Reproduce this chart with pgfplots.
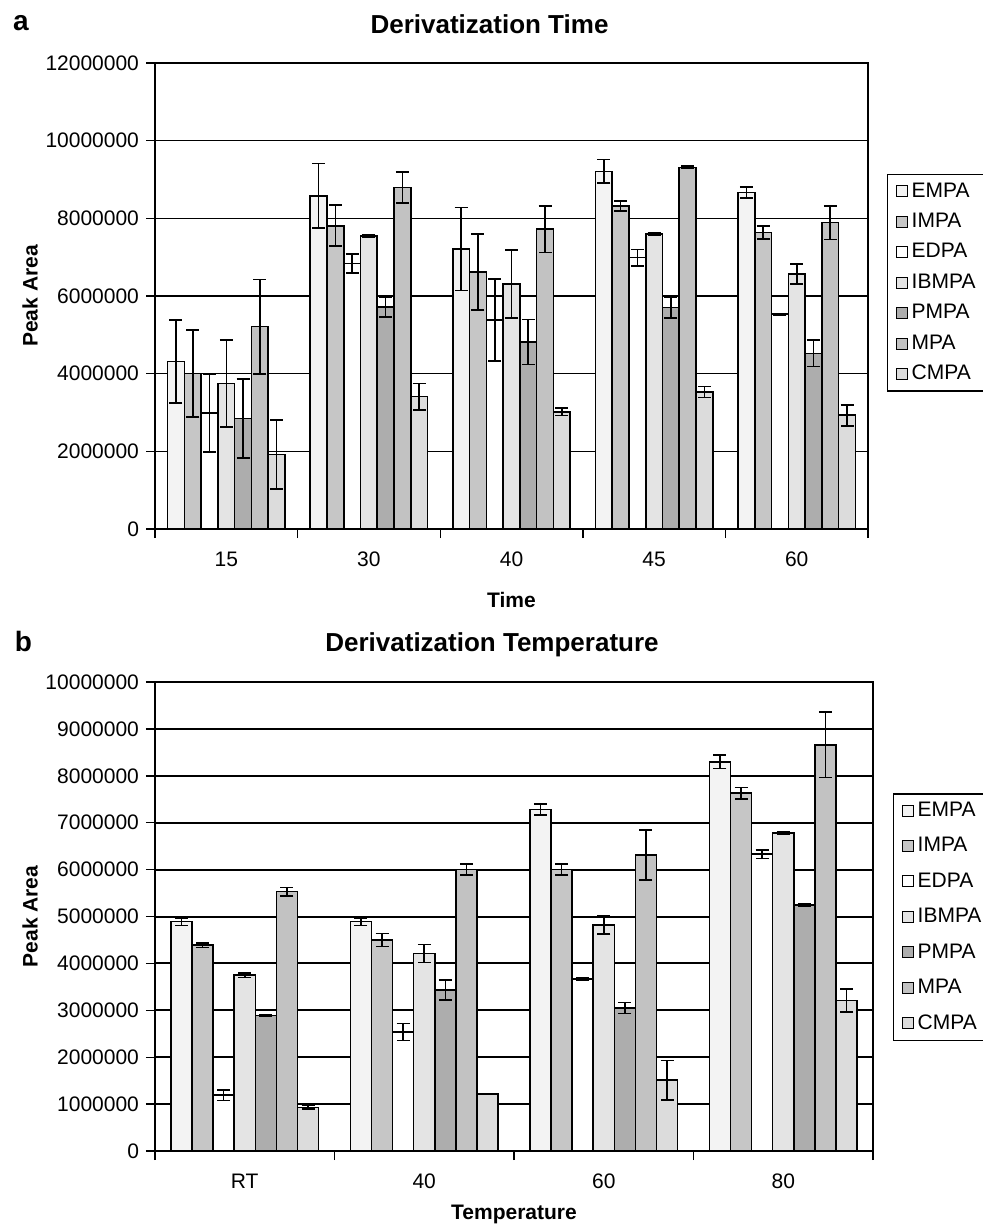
\documentclass[border=0pt]{standalone}
\usepackage{fontspec}
\setmainfont{Liberation Sans}
\usepackage{pgfplots}
\pgfplotsset{compat=1.18}
\usepackage{pgfplotstable}

\definecolor{cEMPA}{HTML}{F3F3F3}
\definecolor{cIMPA}{HTML}{C6C6C6}
\definecolor{cEDPA}{HTML}{FFFFFF}
\definecolor{cIBMPA}{HTML}{E4E4E4}
\definecolor{cPMPA}{HTML}{ADADAD}
\definecolor{cMPA}{HTML}{C2C2C2}
\definecolor{cCMPA}{HTML}{DCDCDC}

% peak areas and error bars
\pgfplotstableread{
x EMPA eEMPA IMPA eIMPA EDPA eEDPA IBMPA eIBMPA PMPA ePMPA MPA eMPA CMPA eCMPA
0 4310000 1070000 4000000 1120000 2980000 1000000 3750000 1120000 2850000 1020000 5210000 1220000 1920000 890000
1 8580000 830000 7810000 530000 6840000 240000 7550000 30000 5710000 250000 8790000 400000 3410000 340000
2 7210000 1070000 6620000 980000 5380000 1060000 6310000 870000 4820000 580000 7720000 600000 3020000 100000
3 9210000 300000 8320000 130000 6990000 210000 7590000 30000 5700000 270000 9310000 30000 3530000 140000
4 8670000 140000 7640000 170000 5530000 20000 6570000 260000 4520000 340000 7890000 430000 2930000 270000
}\timedata

\pgfplotstableread{
x EMPA eEMPA IMPA eIMPA EDPA eEDPA IBMPA eIBMPA PMPA ePMPA MPA eMPA CMPA eCMPA
0 4890000 80000 4390000 50000 1190000 110000 3750000 50000 2890000 20000 5530000 90000 930000 40000
1 4890000 80000 4500000 140000 2540000 180000 4210000 190000 3430000 210000 6000000 120000 1220000 0
2 7280000 120000 6000000 120000 3670000 30000 4820000 190000 3050000 120000 6310000 530000 1510000 420000
3 8300000 140000 7630000 120000 6330000 90000 6780000 20000 5250000 20000 8660000 700000 3210000 250000
}\tempdata

\pgfplotsset{
  sqleg/.style={legend image code/.code={\draw[##1,draw=black,line width=0.5pt] (0pt,-2.75pt) rectangle (5.5pt,2.75pt);}},
  peak/.style={
    scale only axis, anchor=south west,
    ybar=0pt, bar width=0.1176,
    ymin=0,
    axis line style={black,line width=0.7pt},
    ymajorgrids,
    tick style={black,line width=0.7pt},
    tick align=outside, major tick length=4.5pt, minor tick length=4.5pt,
    tick pos=left,
    major x tick style={draw=none},
    scaled y ticks=false,
    yticklabel style={/pgf/number format/fixed,/pgf/number format/1000 sep={}},
    xticklabel style={yshift=-3.5pt},
    /pgf/number format/assume math mode=true,
    tick label style={font=\fontsize{10.5}{12}\selectfont},
    label style={font=\fontsize{10.5}{12}\selectfont\bfseries},
    title style={font=\fontsize{13}{15}\selectfont\bfseries, at={(0.5,1)}, anchor=center, xshift=-11pt},
    legend style={draw=black, line width=0.7pt, font=\fontsize{10.5}{12}\selectfont,
      anchor=north west, inner xsep=4pt},
    legend cell align=left,
    every axis plot post/.append style={sqleg},
    error bars/y dir=both, error bars/y explicit,
    error bars/error bar style={black,line width=0.8pt},
    error bars/error mark options={rotate=90,black,line width=0.8pt,mark size=3.25pt},
  },
  bar/.style={fill=#1, draw=black, line width=0.8pt},
}

\begin{document}
\begin{tikzpicture}
\useasboundingbox (0,0) rectangle (491pt,-615pt);

\node[font=\fontsize{14}{16}\selectfont\bfseries] at (10.5pt,-11.5pt) {a};
\node[font=\fontsize{14}{16}\selectfont\bfseries] at (11.75pt,-320.5pt) {b};

\begin{axis}[peak,
    at={(77.5pt,-264.5pt)}, width=356.5pt, height=233pt,
    xmin=-0.5, xmax=4.5, ymax=12000000,
    ytick={0,2000000,4000000,6000000,8000000,10000000,12000000},
    xtick={0,1,2,3,4}, xticklabels={15,30,40,45,60},
    minor xtick={-0.5,0.5,1.5,2.5,3.5,4.5},
    grid style={black,line width=0.6pt},
    title={Derivatization Time}, title style={yshift=13.5pt},
    xlabel={Time}, ylabel={Peak Area},
    xlabel style={at={(axis description cs:0.5,-0.152)},anchor=center},
    ylabel style={at={(axis description cs:-0.175,0.5)},anchor=center},
    legend style={at={(1,0.762)}, xshift=9.5pt, row sep=2.5pt},
  ]
  \addplot[bar=cEMPA]  table[x=x,y=EMPA,y error=eEMPA]{\timedata};
  \addplot[bar=cIMPA]  table[x=x,y=IMPA,y error=eIMPA]{\timedata};
  \addplot[bar=cEDPA]  table[x=x,y=EDPA,y error=eEDPA]{\timedata};
  \addplot[bar=cIBMPA] table[x=x,y=IBMPA,y error=eIBMPA]{\timedata};
  \addplot[bar=cPMPA]  table[x=x,y=PMPA,y error=ePMPA]{\timedata};
  \addplot[bar=cMPA]   table[x=x,y=MPA,y error=eMPA]{\timedata};
  \addplot[bar=cCMPA]  table[x=x,y=CMPA,y error=eCMPA]{\timedata};
  \legend{EMPA,IMPA,EDPA,IBMPA,PMPA,MPA,CMPA}
\end{axis}

\begin{axis}[peak,
    at={(77.5pt,-575.5pt)}, width=359pt, height=234.5pt,
    xmin=-0.5, xmax=3.5, ymax=10000000,
    ytick={0,1000000,2000000,3000000,4000000,5000000,6000000,7000000,8000000,9000000,10000000},
    xtick={0,1,2,3}, xticklabels={RT,40,60,80},
    minor xtick={-0.5,0.5,1.5,2.5,3.5},
    grid style={black,line width=1pt},
    title={Derivatization Temperature}, title style={yshift=12.5pt},
    xlabel={Temperature}, ylabel={Peak Area},
    xlabel style={at={(axis description cs:0.5,-0.136)},anchor=center},
    ylabel style={at={(axis description cs:-0.174,0.5)},anchor=center},
    legend style={at={(1,0.763)}, xshift=10pt, row sep=5pt},
  ]
  \addplot[bar=cEMPA]  table[x=x,y=EMPA,y error=eEMPA]{\tempdata};
  \addplot[bar=cIMPA]  table[x=x,y=IMPA,y error=eIMPA]{\tempdata};
  \addplot[bar=cEDPA]  table[x=x,y=EDPA,y error=eEDPA]{\tempdata};
  \addplot[bar=cIBMPA] table[x=x,y=IBMPA,y error=eIBMPA]{\tempdata};
  \addplot[bar=cPMPA]  table[x=x,y=PMPA,y error=ePMPA]{\tempdata};
  \addplot[bar=cMPA]   table[x=x,y=MPA,y error=eMPA]{\tempdata};
  \addplot[bar=cCMPA]  table[x=x,y=CMPA,y error=eCMPA]{\tempdata};
  \legend{EMPA,IMPA,EDPA,IBMPA,PMPA,MPA,CMPA}
\end{axis}
\end{tikzpicture}
\end{document}
